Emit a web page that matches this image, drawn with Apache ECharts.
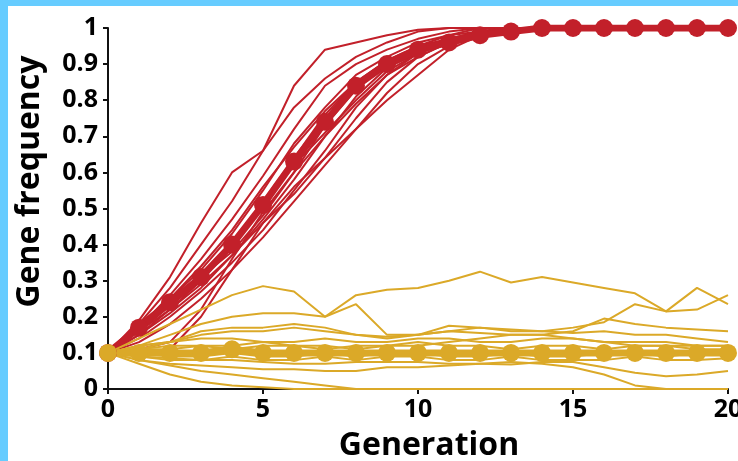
<!DOCTYPE html>
<html>
<head>
<meta charset="utf-8">
<script src="https://cdn.jsdelivr.net/npm/echarts@6/dist/echarts.min.js"></script>
<style>
  html, body { margin: 0; padding: 0; width: 738px; height: 461px; overflow: hidden; background: #66ccff; }
  #chart { position: absolute; left: 8px; top: 6px; width: 730px; height: 455px; background: #ffffff; }
</style>
</head>
<body>
<div id="chart"></div>
<script>
var generations = [0, 1, 2, 3, 4, 5, 6, 7, 8, 9, 10, 11, 12, 13, 14, 15, 16, 17, 18, 19, 20];

// average of the runs (thick lines with dots)
var redMean = [0.1, 0.17, 0.24, 0.31, 0.40, 0.51, 0.63, 0.74, 0.84, 0.90, 0.94, 0.96, 0.98, 0.99, 1, 1, 1, 1, 1, 1, 1];
var yellowMean = [0.1, 0.1, 0.1, 0.1, 0.11, 0.1, 0.1, 0.1, 0.1, 0.1, 0.1, 0.1, 0.1, 0.1, 0.1, 0.1, 0.1, 0.1, 0.1, 0.1, 0.1];

// single runs, red = favoured allele
var redRuns = [
  [0.1, 0.19, 0.31, 0.46, 0.60, 0.66, 0.84, 0.94, 0.96, 0.98, 0.995, 1, 1, 1, 1, 1, 1, 1, 1, 1, 1],
  [0.1, 0.18, 0.28, 0.40, 0.52, 0.66, 0.78, 0.86, 0.92, 0.96, 0.99, 1, 1, 1, 1, 1, 1, 1, 1, 1, 1],
  [0.1, 0.17, 0.26, 0.36, 0.47, 0.59, 0.72, 0.84, 0.90, 0.94, 0.97, 0.99, 1, 1, 1, 1, 1, 1, 1, 1, 1],
  [0.1, 0.18, 0.25, 0.33, 0.43, 0.55, 0.68, 0.78, 0.87, 0.92, 0.96, 0.98, 1, 1, 1, 1, 1, 1, 1, 1, 1],
  [0.1, 0.16, 0.22, 0.30, 0.40, 0.52, 0.64, 0.76, 0.85, 0.91, 0.95, 0.98, 0.99, 1, 1, 1, 1, 1, 1, 1, 1],
  [0.1, 0.17, 0.24, 0.31, 0.38, 0.48, 0.60, 0.73, 0.83, 0.90, 0.94, 0.97, 0.99, 1, 1, 1, 1, 1, 1, 1, 1],
  [0.1, 0.15, 0.22, 0.29, 0.37, 0.47, 0.58, 0.70, 0.81, 0.89, 0.93, 0.96, 0.98, 1, 1, 1, 1, 1, 1, 1, 1],
  [0.1, 0.16, 0.23, 0.30, 0.41, 0.51, 0.62, 0.71, 0.80, 0.88, 0.93, 0.96, 0.99, 1, 1, 1, 1, 1, 1, 1, 1],
  [0.1, 0.14, 0.20, 0.27, 0.35, 0.44, 0.55, 0.66, 0.78, 0.87, 0.92, 0.96, 0.98, 1, 1, 1, 1, 1, 1, 1, 1],
  [0.1, 0.17, 0.25, 0.34, 0.44, 0.56, 0.67, 0.77, 0.85, 0.91, 0.95, 0.97, 0.99, 1, 1, 1, 1, 1, 1, 1, 1],
  [0.1, 0.15, 0.21, 0.28, 0.37, 0.46, 0.54, 0.64, 0.75, 0.85, 0.92, 0.96, 0.99, 1, 1, 1, 1, 1, 1, 1, 1],
  [0.1, 0.13, 0.18, 0.25, 0.33, 0.42, 0.52, 0.62, 0.72, 0.82, 0.90, 0.95, 0.98, 1, 1, 1, 1, 1, 1, 1, 1],
  [0.1, 0.10, 0.11, 0.20, 0.33, 0.46, 0.56, 0.64, 0.72, 0.80, 0.87, 0.94, 0.98, 1, 1, 1, 1, 1, 1, 1, 1],
  [0.1, 0.11, 0.13, 0.22, 0.36, 0.49, 0.60, 0.70, 0.79, 0.87, 0.93, 0.97, 0.99, 1, 1, 1, 1, 1, 1, 1, 1]
];

// single runs, yellow = neutral allele
var yellowRuns = [
  [0.1, 0.14, 0.18, 0.22, 0.26, 0.285, 0.27, 0.20, 0.26, 0.275, 0.28, 0.30, 0.325, 0.295, 0.31, 0.295, 0.28, 0.265, 0.215, 0.28, 0.235],
  [0.1, 0.12, 0.15, 0.18, 0.20, 0.21, 0.21, 0.20, 0.235, 0.15, 0.15, 0.16, 0.17, 0.16, 0.16, 0.155, 0.16, 0.15, 0.15, 0.14, 0.13],
  [0.1, 0.12, 0.13, 0.15, 0.16, 0.16, 0.17, 0.16, 0.15, 0.145, 0.15, 0.175, 0.17, 0.165, 0.16, 0.17, 0.185, 0.235, 0.215, 0.22, 0.26],
  [0.1, 0.11, 0.13, 0.16, 0.17, 0.17, 0.18, 0.17, 0.15, 0.14, 0.15, 0.16, 0.155, 0.15, 0.15, 0.16, 0.195, 0.18, 0.17, 0.165, 0.16],
  [0.1, 0.09, 0.085, 0.08, 0.08, 0.075, 0.07, 0.07, 0.075, 0.075, 0.075, 0.07, 0.07, 0.068, 0.075, 0.075, 0.06, 0.045, 0.035, 0.04, 0.05],
  [0.1, 0.08, 0.07, 0.065, 0.06, 0.055, 0.055, 0.05, 0.05, 0.06, 0.06, 0.065, 0.07, 0.075, 0.07, 0.06, 0.04, 0.01, 0, 0, 0],
  [0.1, 0.07, 0.04, 0.02, 0.01, 0.005, 0, 0, 0, 0, 0, 0, 0, 0, 0, 0, 0, 0, 0, 0, 0],
  [0.1, 0.08, 0.065, 0.05, 0.04, 0.03, 0.02, 0.01, 0, 0, 0, 0, 0, 0, 0, 0, 0, 0, 0, 0, 0],
  [0.1, 0.12, 0.13, 0.14, 0.14, 0.13, 0.13, 0.14, 0.13, 0.13, 0.14, 0.14, 0.13, 0.13, 0.14, 0.14, 0.13, 0.13, 0.13, 0.12, 0.12],
  [0.1, 0.11, 0.12, 0.12, 0.11, 0.12, 0.12, 0.11, 0.12, 0.12, 0.13, 0.12, 0.12, 0.11, 0.12, 0.12, 0.11, 0.12, 0.12, 0.11, 0.11],
  [0.1, 0.1, 0.09, 0.09, 0.1, 0.09, 0.09, 0.1, 0.09, 0.1, 0.1, 0.09, 0.09, 0.1, 0.09, 0.09, 0.1, 0.1, 0.09, 0.1, 0.1],
  [0.1, 0.09, 0.08, 0.08, 0.09, 0.08, 0.08, 0.09, 0.08, 0.09, 0.09, 0.08, 0.08, 0.09, 0.08, 0.08, 0.08, 0.09, 0.08, 0.08, 0.085],
  [0.1, 0.11, 0.11, 0.12, 0.12, 0.13, 0.12, 0.12, 0.11, 0.12, 0.12, 0.13, 0.14, 0.15, 0.15, 0.14, 0.13, 0.12, 0.12, 0.12, 0.12]
];

var red = '#c2202a';
var yellow = '#dba928';

function pairs(values) {
  return generations.map(function (g, i) { return [g, values[i]]; });
}

function runSeries(values, color) {
  return {
    type: 'line',
    data: pairs(values),
    showSymbol: false,
    silent: true,
    lineStyle: { color: color, width: 2 }
  };
}

function meanSeries(values, color) {
  return {
    type: 'line',
    data: pairs(values),
    symbol: 'circle',
    symbolSize: 18,
    itemStyle: { color: color },
    lineStyle: { color: color, width: 7 }
  };
}

var chart = echarts.init(document.getElementById('chart'), null, { renderer: 'canvas' });

var series = [];
redRuns.forEach(function (r) { series.push(runSeries(r, red)); });
series.push(meanSeries(redMean, red));
yellowRuns.forEach(function (r) { series.push(runSeries(r, yellow)); });
series.push(meanSeries(yellowMean, yellow));

var labelFont = { fontFamily: 'Open Sans', fontWeight: 'bold', fontSize: 25, color: '#000' };

var option = {
  backgroundColor: '#ffffff',
  animation: false,
  grid: { left: 100, right: 10, top: 22, bottom: 72, outerBoundsMode: 'none', containLabel: false },
  xAxis: {
    type: 'value',
    min: 0,
    max: 20,
    interval: 5,
    name: 'Generation',
    nameLocation: 'middle',
    nameGap: 41,
    nameTextStyle: { fontFamily: 'Open Sans', fontWeight: 'bold', fontSize: 32, color: '#000', padding: [0, 0, 0, 22] },
    axisLine: { lineStyle: { color: '#111', width: 2 } },
    axisTick: { show: true, length: 5, lineStyle: { color: '#111', width: 2 } },
    axisLabel: Object.assign({ margin: 8, hideOverlap: false }, labelFont),
    splitLine: { show: false }
  },
  yAxis: {
    type: 'value',
    min: 0,
    max: 1,
    interval: 0.1,
    name: 'Gene frequency',
    nameLocation: 'middle',
    nameGap: 62,
    nameTextStyle: { fontFamily: 'Open Sans', fontWeight: 'bold', fontSize: 32, color: '#000', padding: [0, 0, 0, 54] },
    axisLine: { show: true, lineStyle: { color: '#111', width: 2 } },
    axisTick: { show: true, length: 5, lineStyle: { color: '#111', width: 2 } },
    axisLabel: Object.assign({ margin: 10 }, labelFont),
    splitLine: { show: false }
  },
  series: series
};

chart.setOption(option);
</script>
</body>
</html>
